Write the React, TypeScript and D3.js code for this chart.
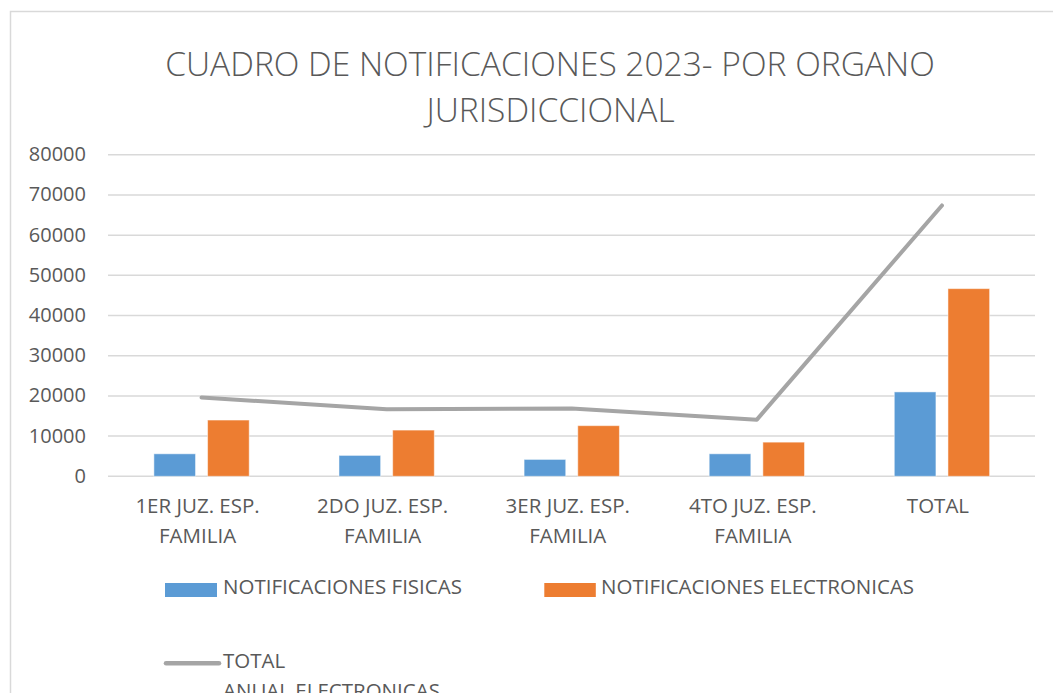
import React from "react";
import * as d3 from "d3";

const categories = [
  ["1ER JUZ. ESP.", "FAMILIA"],
  ["2DO JUZ. ESP.", "FAMILIA"],
  ["3ER JUZ. ESP.", "FAMILIA"],
  ["4TO JUZ. ESP.", "FAMILIA"],
  ["TOTAL"],
];
const fisicas = [5600, 5200, 4200, 5600, 21000];
const electronicas = [14000, 11500, 12600, 8500, 46700];
const totalAnual = [19600, 16700, 16900, 14100, 67400];
const yTicks = [0, 10000, 20000, 30000, 40000, 50000, 60000, 70000, 80000];
const titleLines = ["CUADRO DE NOTIFICACIONES 2023- POR ORGANO", "JURISDICCIONAL"];
const seriesNames = ["NOTIFICACIONES FISICAS", "NOTIFICACIONES ELECTRONICAS", "TOTAL", "ANUAL ELECTRONICAS"];

const BLUE = "#5b9bd5";
const ORANGE = "#ed7d31";
const GRAY = "#a5a5a5";
const TEXT = "#595959";
const GRID = "#d9d9d9";
const FONT = "'Open Sans', 'Liberation Sans', sans-serif";

function T({ x, y, anchor = "start", size = 20.5, weight = 400, children, k = 1 }: any) {
  return (
    <text
      transform={`translate(${x},${y}) scale(${k},1)`}
      textAnchor={anchor}
      fontSize={size}
      fontWeight={weight}
      fontFamily={FONT}
      fill={TEXT}
    >
      {children}
    </text>
  );
}

export default function App() {
  const labels = categories.map((c) => c.join(" "));
  const x = d3.scaleBand<string>().domain(labels).range([109, 1034.5]);
  const y = d3.scaleLinear().domain([0, 80000]).range([476.3, 154.8]);
  const bw = x.bandwidth();
  const barW = bw * 0.225;
  const gap = bw * 0.065;
  const cx = (i: number) => (x(labels[i]) as number) + bw / 2;

  const line = d3
    .line<number>()
    .x((_, i) => cx(i))
    .y((d) => y(d));

  return (
    <svg
      width={1053}
      height={693}
      style={{ position: "absolute", left: 0, top: 0, background: "#fff" }}
    >
      <rect x={0} y={0} width={1053} height={693} fill="#fff" />
      <rect x={10.5} y={11.5} width={1100} height={800} fill="#fff" stroke={GRID} strokeWidth={1.5} />

      <T x={550} y={76} anchor="middle" size={33.5} weight={300}>{titleLines[0]}</T>
      <T x={550.5} y={121.7} anchor="middle" size={33.5} weight={300}>{titleLines[1]}</T>

      {yTicks.map((t) => (
        <g key={t}>
          <line x1={108} x2={1035} y1={y(t)} y2={y(t)} stroke={GRID} strokeWidth={1.5} />
          <T x={86} y={y(t) + 6.5} anchor="end" size={20}>{t}</T>
        </g>
      ))}

      {fisicas.map((v, i) => (
        <rect
          key={"f" + i}
          x={cx(i) - gap / 2 - barW}
          y={y(v)}
          width={barW}
          height={y(0) - y(v)}
          fill={BLUE}
          stroke="#fff"
          strokeOpacity={0.5}
          strokeWidth={1}
        />
      ))}
      {electronicas.map((v, i) => (
        <rect
          key={"e" + i}
          x={cx(i) + gap / 2}
          y={y(v)}
          width={barW}
          height={y(0) - y(v)}
          fill={ORANGE}
          stroke="#fff"
          strokeOpacity={0.5}
          strokeWidth={1}
        />
      ))}

      <path
        d={line(totalAnual) || ""}
        fill="none"
        stroke={GRAY}
        strokeWidth={4}
        strokeLinejoin="round"
        strokeLinecap="round"
      />

      {categories.map((c, i) =>
        c.map((ln, j) => (
          <T key={i + "-" + j} x={cx(i) - 4} y={513.3 + j * 29.4} anchor="middle">
            {ln}
          </T>
        ))
      )}

      {/* legend */}
      <rect x={165} y={583} width={52} height={14} fill={BLUE} />
      <T x={223} y={594.3}>{seriesNames[0]}</T>
      <rect x={544.3} y={583} width={51.5} height={14} fill={ORANGE} />
      <T x={601} y={594.3}>{seriesNames[1]}</T>
      <line x1={166} x2={219} y1={663.3} y2={663.3} stroke={GRAY} strokeWidth={4.5} strokeLinecap="round" />
      <T x={223} y={668.3}>{seriesNames[2]}</T>
      <T x={223} y={697.5}>{seriesNames[3]}</T>
    </svg>
  );
}
